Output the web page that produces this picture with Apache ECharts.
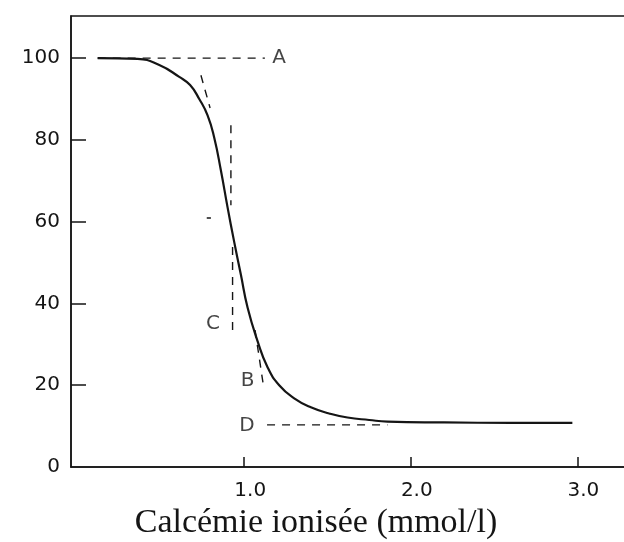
<!DOCTYPE html>
<html>
<head>
<meta charset="utf-8">
<script src="https://cdn.jsdelivr.net/npm/echarts@6/dist/echarts.min.js"></script>
<style>html,body{margin:0;padding:0;background:#fff}#c{width:624px;height:542px}</style>
</head>
<body>
<div id="c"></div>
<script>
// Sigmoid curve (Calcémie ionisée mmol/l -> %)
const curveX = [0.12, 0.36, 0.49, 0.61, 0.675, 0.73, 0.78, 0.82, 0.86, 0.90, 0.94, 0.98, 1.02, 1.08, 1.14, 1.21, 1.30, 1.40, 1.51, 1.62, 1.75, 1.86, 2.2, 2.6, 2.97];
const curveY = [100, 99.8, 98.3, 95.4, 93.4, 90.0, 86.0, 80.5, 72.5, 63.5, 55.0, 47.0, 39.0, 30.8, 24.4, 20.0, 16.8, 14.6, 13.1, 12.1, 11.5, 11.1, 10.9, 10.8, 10.8];

// Dashed construction lines
const guideA = [[0.12, 100], [1.124, 100]];
const guideTangentTop = [[0.74, 95.8], [0.795, 87.8]];
const guideVertical = [[0.92, 83.6], [0.92, 64.0]];
const guideSmallDash = [[0.775, 60.9], [0.80, 60.9]];
const guideC = [[0.93, 53.8], [0.93, 33.0]];
const guideB = [[1.065, 33.5], [1.113, 20.5]];
const guideD = [[1.137, 10.3], [1.86, 10.3]];

// Letter labels
const letterNames = ['A', 'B', 'C', 'D'];
const letterX = [1.21, 1.02, 0.813, 1.017];
const letterY = [100, 21.0, 35.0, 10.0];

// Axis ticks
const xTickValues = [1, 2, 3];
const xTickLabels = ['1.0', '2.0', '3.0'];
const yTickValues = [0, 20, 40, 60, 80, 100];
const yTickLabels = ['0', '20', '40', '60', '80', '100'];
const xTitle = 'Calcémie ionisée (mmol/l)';

const ink = '#151515';
const sansFont = '"DejaVu Sans", sans-serif';

function dashed(data) {
  return {
    type: 'line', data: data, showSymbol: false, symbol: 'none',
    lineStyle: { color: ink, width: 1.4, type: [8, 7] },
    silent: true, animation: false, z: 3
  };
}

const chart = echarts.init(document.getElementById('c'), null, { renderer: 'canvas' });
chart.setOption({
  animation: false,
  backgroundColor: '#fff',
  grid: {
    left: 71, right: -5, top: 16, bottom: 75, containLabel: false, outerBoundsMode: 'none',
    show: true, borderColor: ink, borderWidth: 1.5, backgroundColor: 'transparent'
  },
  xAxis: {
    type: 'value', min: -0.04, max: 3.31,
    axisLine: { show: true, onZero: false, lineStyle: { color: ink, width: 1.5 } },
    axisTick: { show: true, inside: true, length: 10, customValues: xTickValues, lineStyle: { color: ink, width: 1.5 } },
    axisLabel: {
      show: true, customValues: xTickValues, margin: 14, padding: [0, 0, 0, 12],
      color: ink, fontFamily: sansFont, fontSize: 20,
      formatter: function (v) { const i = xTickValues.indexOf(v); return i >= 0 ? xTickLabels[i] : ''; }
    },
    splitLine: { show: false },
    name: xTitle, nameLocation: 'middle', nameGap: 38,
    nameTextStyle: { fontFamily: '"Liberation Serif", "DejaVu Serif", serif', fontSize: 34, color: ink, padding: [0, 68, 0, 0] }
  },
  yAxis: {
    type: 'value', min: 0, max: 110.3,
    axisLine: { show: true, onZero: false, lineStyle: { color: ink, width: 1.5 } },
    axisTick: { show: true, inside: true, length: 15, customValues: [20, 40, 60, 80, 100], lineStyle: { color: ink, width: 1.5 } },
    axisLabel: {
      show: true, customValues: yTickValues, margin: 11,
      color: ink, fontFamily: sansFont, fontSize: 20,
      formatter: function (v) { const i = yTickValues.indexOf(v); return i >= 0 ? yTickLabels[i] : ''; }
    },
    splitLine: { show: false }
  },
  series: [
    {
      type: 'line', data: curveX.map((x, i) => [x, curveY[i]]),
      smooth: 0.5, showSymbol: false, symbol: 'none',
      lineStyle: { color: ink, width: 2.2 }, z: 4
    },
    dashed(guideA), dashed(guideTangentTop), dashed(guideVertical), dashed(guideSmallDash),
    dashed(guideC), dashed(guideB), dashed(guideD),
    {
      type: 'scatter', symbolSize: 1, itemStyle: { color: 'rgba(0,0,0,0)' },
      data: letterNames.map((n, i) => ({ name: n, value: [letterX[i], letterY[i]] })),
      label: { show: true, position: 'inside', formatter: '{b}', color: ink, fontFamily: sansFont, fontSize: 20 },
      silent: true, z: 5
    }
  ]
});
</script>
</body>
</html>
